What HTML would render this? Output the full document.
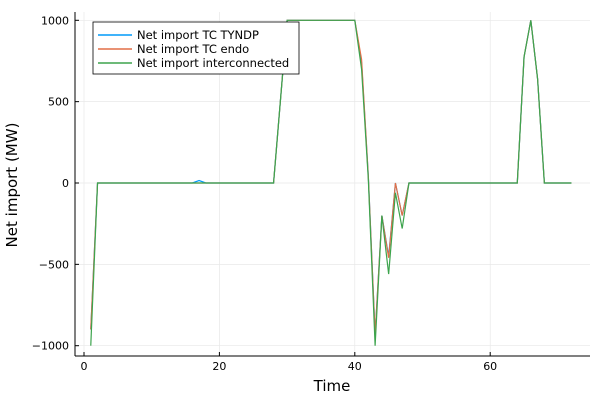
<!DOCTYPE html>
<html><head><meta charset="utf-8"><style>
body{margin:0;background:#fff;}
svg text{font-family:"DejaVu Sans","Liberation Sans",sans-serif;}
</style></head><body>
<svg id="chart" width="600" height="400" xmlns="http://www.w3.org/2000/svg">
<rect width="600" height="400" fill="#fff"/>
<g id="grid"></g>
<g id="axes"></g>
<g id="series"></g>
<text x="332" y="391" font-size="15" text-anchor="middle">Time</text>
<text x="17" y="185" font-size="15" text-anchor="middle" transform="rotate(-90 17 185)">Net import (MW)</text>
<g>
<rect x="93" y="22" width="206" height="52" fill="#fff" stroke="#000" stroke-width="0.8"/>
<g><line x1="98" y1="35" x2="132" y2="35" stroke="#009af9" stroke-width="1.5"/><text x="137" y="39" font-size="11.5">Net import TC TYNDP</text></g>
<g><line x1="98" y1="49" x2="132" y2="49" stroke="#e26f46" stroke-width="1.5"/><text x="137" y="53" font-size="11.5">Net import TC endo</text></g>
<g><line x1="98" y1="63" x2="132" y2="63" stroke="#3da44d" stroke-width="1.5"/><text x="137" y="67" font-size="11.5">Net import interconnected</text></g>
</g>
</svg>
<script>
const xTicks=[0,20,40,60];
const yTicks=[-1000,-500,0,500,1000];
const yTickLabels=["\u22121000","\u2212500","0","500","1000"];
const times=Array.from({length:72},(_,i)=>i+1);
function base(){const a=new Array(72).fill(0);
a[28]=500;for(let t=30;t<=40;t++)a[t-1]=1000;
a[64]=775;a[65]=1000;a[66]=640;return a;}
const seriesTyndp=base();
seriesTyndp[0]=-900;seriesTyndp[16]=15;seriesTyndp[40]=740;seriesTyndp[41]=40;seriesTyndp[42]=-930;seriesTyndp[43]=-200;seriesTyndp[44]=-450;seriesTyndp[45]=0;seriesTyndp[46]=-200;
const seriesEndo=base();
seriesEndo[0]=-900;seriesEndo[40]=760;seriesEndo[41]=40;seriesEndo[42]=-930;seriesEndo[43]=-200;seriesEndo[44]=-460;seriesEndo[45]=0;seriesEndo[46]=-200;
const seriesInter=base();
seriesInter[0]=-1000;seriesInter[40]=700;seriesInter[41]=20;seriesInter[42]=-1000;seriesInter[43]=-200;seriesInter[44]=-560;seriesInter[45]=-60;seriesInter[46]=-280;
const X=v=>84+v*6.77;
const Y=v=>183-v*0.1627;
const ns="http://www.w3.org/2000/svg";
function mk(tag,attrs,parent){const e=document.createElementNS(ns,tag);for(const k in attrs)e.setAttribute(k,attrs[k]);parent.appendChild(e);return e;}
const grid=document.getElementById('grid'),axes=document.getElementById('axes'),ser=document.getElementById('series');
const L=75,R=590,T=12,B=356;
xTicks.forEach(v=>{const g=mk('line',{x1:X(v),x2:X(v),y1:T,y2:B,stroke:'#e8e8e8','stroke-width':0.7},grid);


mk('line',{x1:X(v),x2:X(v),y1:B,y2:B-4,stroke:'#000'},axes);
const t=mk('text',{x:X(v),y:B+14,'font-size':11,'text-anchor':'middle'},axes);t.textContent=v;

});
yTicks.forEach((v,i)=>{const g=mk('line',{x1:L,x2:R,y1:Y(v),y2:Y(v),stroke:'#e8e8e8','stroke-width':0.7},grid);


mk('line',{x1:L,x2:L+4,y1:Y(v),y2:Y(v),stroke:'#000'},axes);
const t=mk('text',{x:L-6,y:Y(v)+4,'font-size':11,'text-anchor':'end'},axes);t.textContent=yTickLabels[i];

});
mk('line',{x1:L,x2:R,y1:B,y2:B,stroke:'#000'},axes);
mk('line',{x1:L,x2:L,y1:T,y2:B,stroke:'#000'},axes);
[[seriesTyndp,'#009af9','line-tyndp'],[seriesEndo,'#e26f46','line-endo'],[seriesInter,'#3da44d','line-interconnected']].forEach(([d,c,n])=>{
const p=mk('polyline',{points:d.map((v,i)=>X(times[i])+','+Y(v)).join(' '),fill:'none',stroke:c,'stroke-width':1.2},ser);

});
</script>
</body></html>
